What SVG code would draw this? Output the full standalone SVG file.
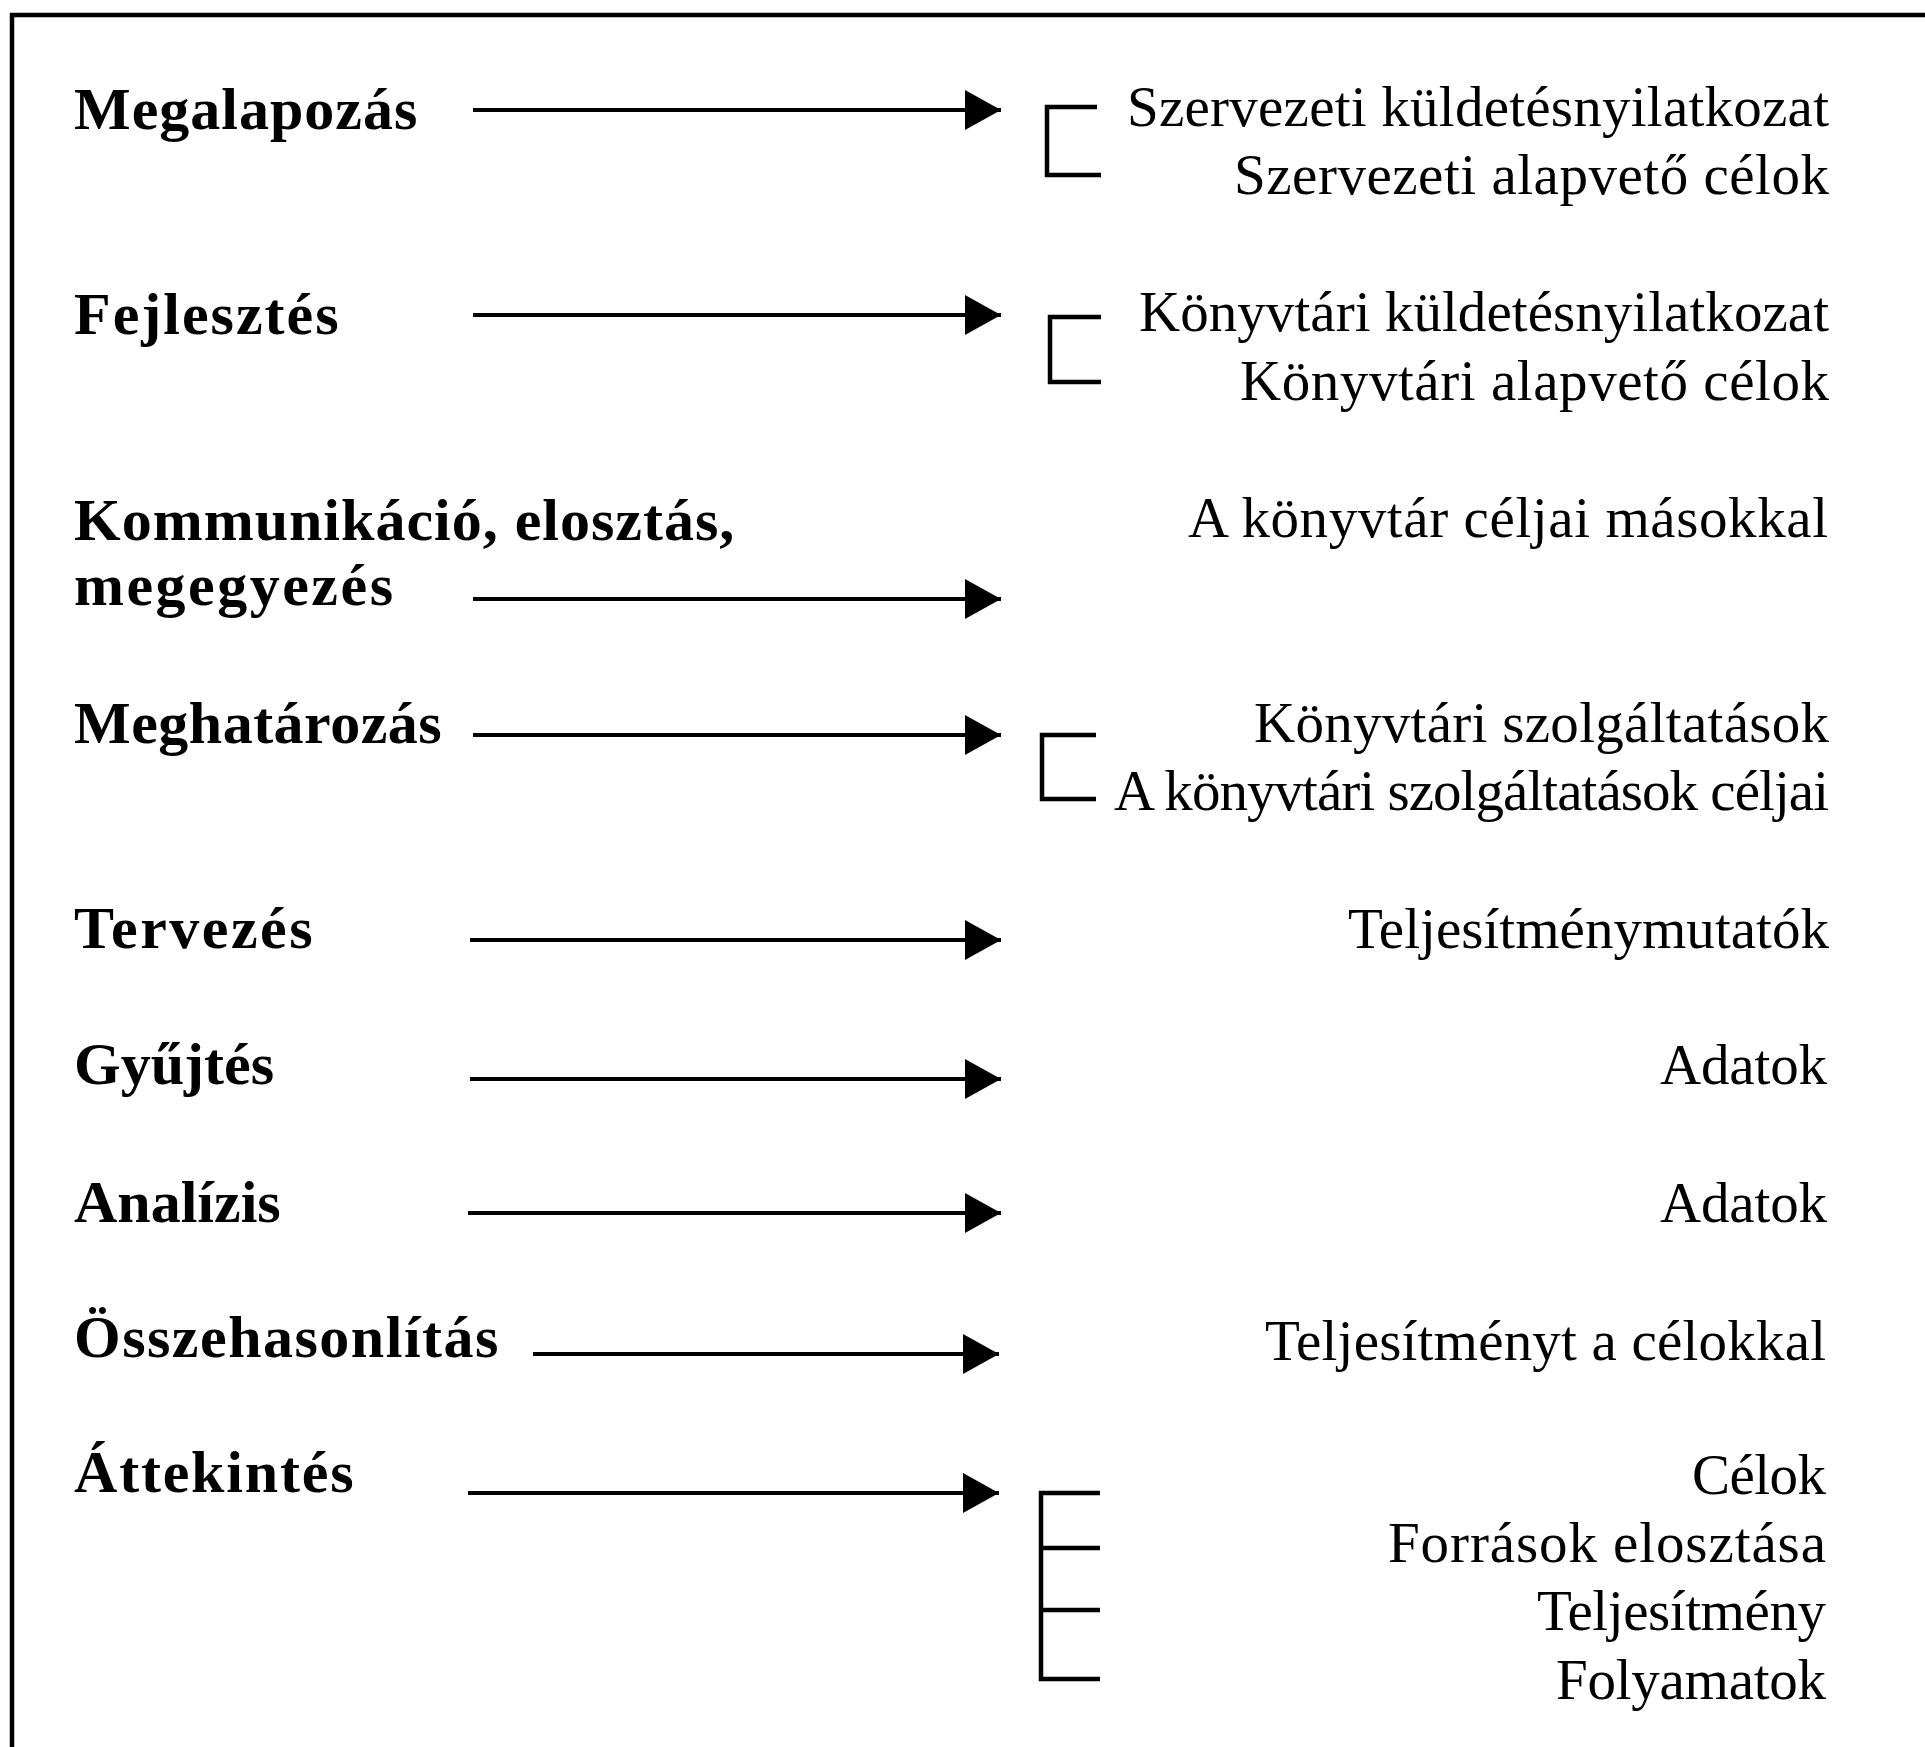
<svg xmlns="http://www.w3.org/2000/svg" width="1925" height="1747" viewBox="0 0 1925 1747">
<style>
.l{font-family:"Liberation Serif","Times New Roman",serif;font-weight:bold;font-size:60px;fill:#000}
.r{font-family:"Liberation Serif","Times New Roman",serif;font-size:57px;fill:#000;text-anchor:end}
.ln{stroke:#000;stroke-width:4;fill:none}
.br{stroke:#000;stroke-width:4.5;fill:none;stroke-linejoin:miter}
</style>
<defs>
<marker id="ah" markerUnits="userSpaceOnUse" markerWidth="36" markerHeight="40" refX="36" refY="20" orient="auto" viewBox="0 0 36 40">
<path d="M0,0 L36,20 L0,40 Z" fill="#000"/>
</marker>
</defs>
<rect width="1925" height="1747" fill="#fff"/>
<path id="frame" d="M12,1747 V15 H1925" stroke="#000" stroke-width="4.5" fill="none"/>

<g id="n1"><text class="l" x="74" y="129" letter-spacing="1">Megalapozás</text></g>
<g id="n2"><text class="l" x="74" y="334" letter-spacing="2">Fejlesztés</text></g>
<g id="n3"><text class="l" x="74" y="540" letter-spacing="1">Kommunikáció, elosztás,</text><text class="l" x="74" y="605" letter-spacing="2.5">megegyezés</text></g>
<g id="n4"><text class="l" x="74" y="743" letter-spacing="0.5">Meghatározás</text></g>
<g id="n5"><text class="l" x="74" y="948" letter-spacing="2.5">Tervezés</text></g>
<g id="n6"><text class="l" x="74" y="1084">Gyűjtés</text></g>
<g id="n7"><text class="l" x="74" y="1222">Analízis</text></g>
<g id="n8"><text class="l" x="74" y="1357" letter-spacing="1.5">Összehasonlítás</text></g>
<g id="n9"><text class="l" x="74" y="1492" letter-spacing="1.8">Áttekintés</text></g>

<g id="t1"><text class="r" x="1829" y="126" textLength="702" lengthAdjust="spacing">Szervezeti küldetésnyilatkozat</text><text class="r" x="1829" y="194" textLength="595" lengthAdjust="spacing">Szervezeti alapvető célok</text></g>
<g id="t2"><text class="r" x="1829" y="331" textLength="690" lengthAdjust="spacing">Könyvtári küldetésnyilatkozat</text><text class="r" x="1829" y="400" textLength="589" lengthAdjust="spacing">Könyvtári alapvető célok</text></g>
<g id="t3"><text class="r" x="1828" y="537" textLength="640" lengthAdjust="spacing">A könyvtár céljai másokkal</text></g>
<g id="t4"><text class="r" x="1829" y="742" textLength="575" lengthAdjust="spacing">Könyvtári szolgáltatások</text><text class="r" x="1829" y="810" textLength="715" lengthAdjust="spacing">A könyvtári szolgáltatások céljai</text></g>
<g id="t5"><text class="r" x="1829" y="948" textLength="481" lengthAdjust="spacing">Teljesítménymutatók</text></g>
<g id="t6"><text class="r" x="1827" y="1084" textLength="167" lengthAdjust="spacing">Adatok</text></g>
<g id="t7"><text class="r" x="1827" y="1222" textLength="167" lengthAdjust="spacing">Adatok</text></g>
<g id="t8"><text class="r" x="1826" y="1360" textLength="561" lengthAdjust="spacing">Teljesítményt a célokkal</text></g>
<g id="t9"><text class="r" x="1826" y="1494" textLength="134" lengthAdjust="spacing">Célok</text><text class="r" x="1826" y="1562" textLength="438" lengthAdjust="spacing">Források elosztása</text><text class="r" x="1826" y="1630" textLength="289" lengthAdjust="spacing">Teljesítmény</text><text class="r" x="1826" y="1699" textLength="270" lengthAdjust="spacing">Folyamatok</text></g>

<g id="connectors">
<line class="ln" x1="473" y1="110" x2="1001" y2="110" marker-end="url(#ah)"/>
<line class="ln" x1="473" y1="315" x2="1001" y2="315" marker-end="url(#ah)"/>
<line class="ln" x1="473" y1="599" x2="1001" y2="599" marker-end="url(#ah)"/>
<line class="ln" x1="473" y1="735" x2="1001" y2="735" marker-end="url(#ah)"/>
<line class="ln" x1="470" y1="940" x2="1001" y2="940" marker-end="url(#ah)"/>
<line class="ln" x1="470" y1="1079" x2="1001" y2="1079" marker-end="url(#ah)"/>
<line class="ln" x1="468" y1="1213" x2="1001" y2="1213" marker-end="url(#ah)"/>
<line class="ln" x1="533" y1="1354" x2="999" y2="1354" marker-end="url(#ah)"/>
<line class="ln" x1="468" y1="1493" x2="999" y2="1493" marker-end="url(#ah)"/>
<path class="br" d="M1097,107 H1047 V175 H1101"/>
<path class="br" d="M1101,317 H1050 V382 H1101"/>
<path class="br" d="M1096,735 H1042 V799 H1096"/>
<path class="br" d="M1100,1493 H1041 V1679 H1100 M1041,1548 H1100 M1041,1610 H1100"/>
</g>
</svg>
